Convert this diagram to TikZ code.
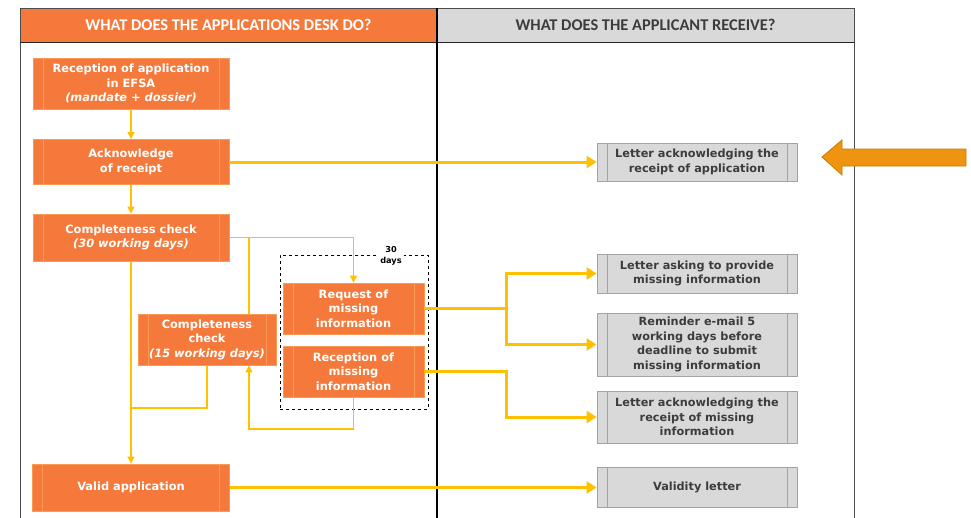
\documentclass[tikz,border=0pt]{standalone}
\usepackage{fontspec}
\setmainfont{DejaVu Sans}
\newfontfamily\hdrfont{Carlito}
\usetikzlibrary{arrows.meta}
\definecolor{ofill}{HTML}{F5793B}
\definecolor{oline}{HTML}{FB9A55}
\definecolor{gfill}{HTML}{D9D9D9}
\definecolor{gline}{HTML}{A3A3A3}
\definecolor{yel}{HTML}{FFC000}
\definecolor{gtext}{HTML}{3C3C3C}
\definecolor{bigarr}{HTML}{EE940E}
\definecolor{bigarrline}{HTML}{C97A08}
\tikzset{
  obox/.style={draw=oline, fill=ofill, text=white, line width=0.8pt,
    font=\bfseries\fontsize{11.4}{14.5}\selectfont, align=center, inner sep=0pt,
    path picture={\draw[oline,line width=0.5pt]
      ([xshift=10pt]path picture bounding box.north west) -- ([xshift=10pt]path picture bounding box.south west)
      ([xshift=-10pt]path picture bounding box.north east) -- ([xshift=-10pt]path picture bounding box.south east);}},
  gbox/.style={draw=gline, fill=gfill, text=gtext, line width=0.8pt,
    font=\bfseries\fontsize{11.3}{14.5}\selectfont, align=center, inner sep=0pt,
    minimum width=200pt,
    path picture={\draw[gline,line width=0.6pt]
      ([xshift=10pt]path picture bounding box.north west) -- ([xshift=10pt]path picture bounding box.south west)
      ([xshift=-10pt]path picture bounding box.north east) -- ([xshift=-10pt]path picture bounding box.south east);}},
  thinc/.style={draw=yel, line width=1.2pt},
  thinarr/.style={thinc, -{Triangle[length=7pt,width=7pt]}},
  thickc/.style={draw=yel, line width=3pt},
  thickarr/.style={thickc, -{Triangle[length=10pt,width=12pt]}},
}
\begin{document}
\begin{tikzpicture}[x=1pt,y=-1pt]
\useasboundingbox (0,0) rectangle (971,517);
\fill[white] (0,0) rectangle (971,517);
% headers
\node (h1) [fill=ofill, minimum width=417pt, minimum height=34pt, inner sep=0pt,
  text=white, font=\hdrfont\bfseries\fontsize{16.4}{18}\selectfont] at (228.5,25) {WHAT DOES THE APPLICATIONS DESK DO?};
\node (h2) [fill=gfill, minimum width=417pt, minimum height=34pt, inner sep=0pt,
  text=gtext, font=\hdrfont\bfseries\fontsize{16.4}{18}\selectfont] at (645.5,25) {WHAT DOES THE APPLICANT RECEIVE?};
% frame
\draw[line width=0.8pt, black!70] (20,530) -- (20,8) -- (854,8) -- (854,530);
\draw[line width=1pt, black!85] (20,42) -- (854,42);
\draw[line width=1.2pt, black] (437,8) -- (437,530);
% left boxes
\node (rec) [obox, minimum width=196pt, minimum height=51pt] at (131,83.5)
  {Reception of application\\in EFSA\\{\itshape (mandate + dossier)}};
\node (ack) [obox, minimum width=196pt, minimum height=45pt] at (131,162)
  {Acknowledge\\of receipt};
\node (cc30) [obox, minimum width=196pt, minimum height=47pt] at (131,237.5)
  {Completeness check\\{\itshape (30 working days)}};
\node (cc15) [obox, minimum width=138pt, minimum height=51pt] at (207,339.5)
  {Completeness\\check\\{\itshape (15 working days)}};
\node (req) [obox, minimum width=141pt, minimum height=51pt] at (353.5,308.5)
  {Request of\\missing\\information};
\node (rmi) [obox, minimum width=141pt, minimum height=51pt] at (353.5,371.5)
  {Reception of\\missing\\information};
\node (valid) [obox, minimum width=197pt, minimum height=47pt] at (131,487.5)
  {Valid application};
% dashed group
\node (dbox) [draw, dashed, line width=0.6pt, minimum width=148pt, minimum height=154pt, inner sep=0pt] at (354,332) {};
\node (days) [fill=white, inner sep=2pt, align=center, font=\bfseries\fontsize{8.2}{11}\selectfont] at (391,255.5) {30\\days};
% right boxes
\node (l1) [gbox, minimum height=38pt] at (697,162) {Letter acknowledging the\\receipt of application};
\node (l2) [gbox, minimum height=39pt] at (697,273.5) {Letter asking to provide\\missing information};
\node (l3) [gbox, minimum height=63pt] at (697,344.5) {Reminder e-mail 5\\working days before\\deadline to submit\\missing information};
\node (l4) [gbox, minimum height=52pt] at (697,417) {Letter acknowledging the\\receipt of missing\\information};
\node (vl) [gbox, minimum height=40pt] at (697,487.5) {Validity letter};
% big arrow
\filldraw[fill=bigarr, draw=bigarrline, line width=0.8pt]
  (822,157) -- (842,140) -- (842,149) -- (966,149) -- (966,166) -- (842,166) -- (842,175) -- cycle;
% connectors
\draw[thinarr] (rec.south) -- (ack.north);
\draw[thickarr] (ack.east) -- (l1.west);
\draw[thinarr] (ack.south) -- (cc30.north);
\draw[thinarr] (cc30.east) -| (req.north);
\draw[thinc] ([xshift=42pt]cc15.north) -- ([xshift=42pt]cc15.north |- cc30.east);
\draw[thinarr] (cc30.south) -- (valid.north);
\coordinate (jA) at (131,408);
\draw[thinc] (cc15.south) |- (jA);
\coordinate (jB) at (249,429);
\draw[thinarr] (rmi.south) |- (jB) -- ([xshift=42pt]cc15.south);
\coordinate (fork) at (506,308.5);
\draw[thickc] (req.east) -- (fork);
\draw[thickarr] (fork) |- (l2.west);
\draw[thickarr] (fork) |- (l3.west);
\draw[thickarr] (rmi.east) -- (rmi.east -| fork) |- (l4.west);
\draw[thickarr] (valid.east) -- (vl.west);
\end{tikzpicture}
\end{document}
